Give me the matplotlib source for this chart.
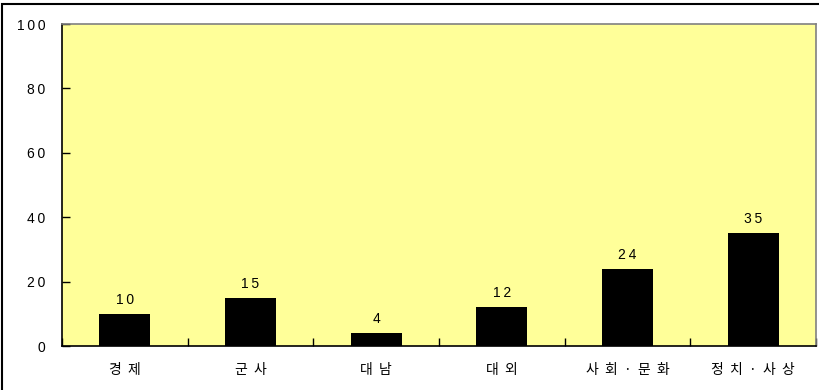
import matplotlib.pyplot as plt
from matplotlib.patches import Rectangle
import numpy as np

plt.rcParams['font.family'] = ['Liberation Sans', 'Noto Sans CJK KR', 'DejaVu Sans']

# data
categories = ['경 제', '군 사', '대 남', '대 외', '사 회 · 문 화', '정 치 · 사 상']
values = [10, 15, 4, 12, 24, 35]
yticks = [0, 20, 40, 60, 80, 100]


def spaced(s, gap='\u2009'):
    # the original chart uses wide letter spacing
    return gap.join(s)


fig = plt.figure(figsize=(8.2, 3.9), dpi=100)
ax = fig.add_axes([62 / 820, 1 - 346 / 390, 754 / 820, 322 / 390])
ax.set_facecolor('#FFFF99')

x = np.arange(len(categories))
ax.bar(x, values, width=0.405, color='black', zorder=3)

for xi, v in zip(x, values):
    ax.annotate(spaced(str(v)), (xi, v), xytext=(0, 5), textcoords='offset points',
                ha='center', va='bottom', fontsize=10)

ax.set_xlim(-0.5, len(categories) - 0.5)
ax.set_ylim(0, 100)
ax.set_yticks(yticks)
ax.set_yticklabels([spaced(str(t)) for t in yticks], fontsize=10)

# category ticks at boundaries, labels at centers
ax.set_xticks(np.arange(len(categories) + 1) - 0.5)
ax.set_xticklabels([])
ax.set_xticks(x, minor=True)
ax.set_xticklabels([c.replace(' ', '  ') for c in categories], minor=True,
                   fontsize=10, family=['Noto Sans CJK KR', 'DejaVu Sans'])
ax.tick_params(axis='x', which='minor', length=0, pad=12)
ax.tick_params(axis='x', which='major', direction='in', length=6, width=1)
ax.tick_params(axis='y', direction='in', length=6, width=1, pad=12)

for side in ['top', 'right']:
    ax.spines[side].set_color('#808080')
    ax.spines[side].set_linewidth(1.2)
for side in ['left', 'bottom']:
    ax.spines[side].set_color('black')
    ax.spines[side].set_linewidth(1.2)

# outer frame of the chart
fig.patches.append(Rectangle((2 / 820, -0.1), 1.1, 1 - 4.5 / 390 + 0.1,
                             transform=fig.transFigure, fill=False,
                             edgecolor='black', linewidth=1.5))

fig.savefig('out.png', dpi=100)
